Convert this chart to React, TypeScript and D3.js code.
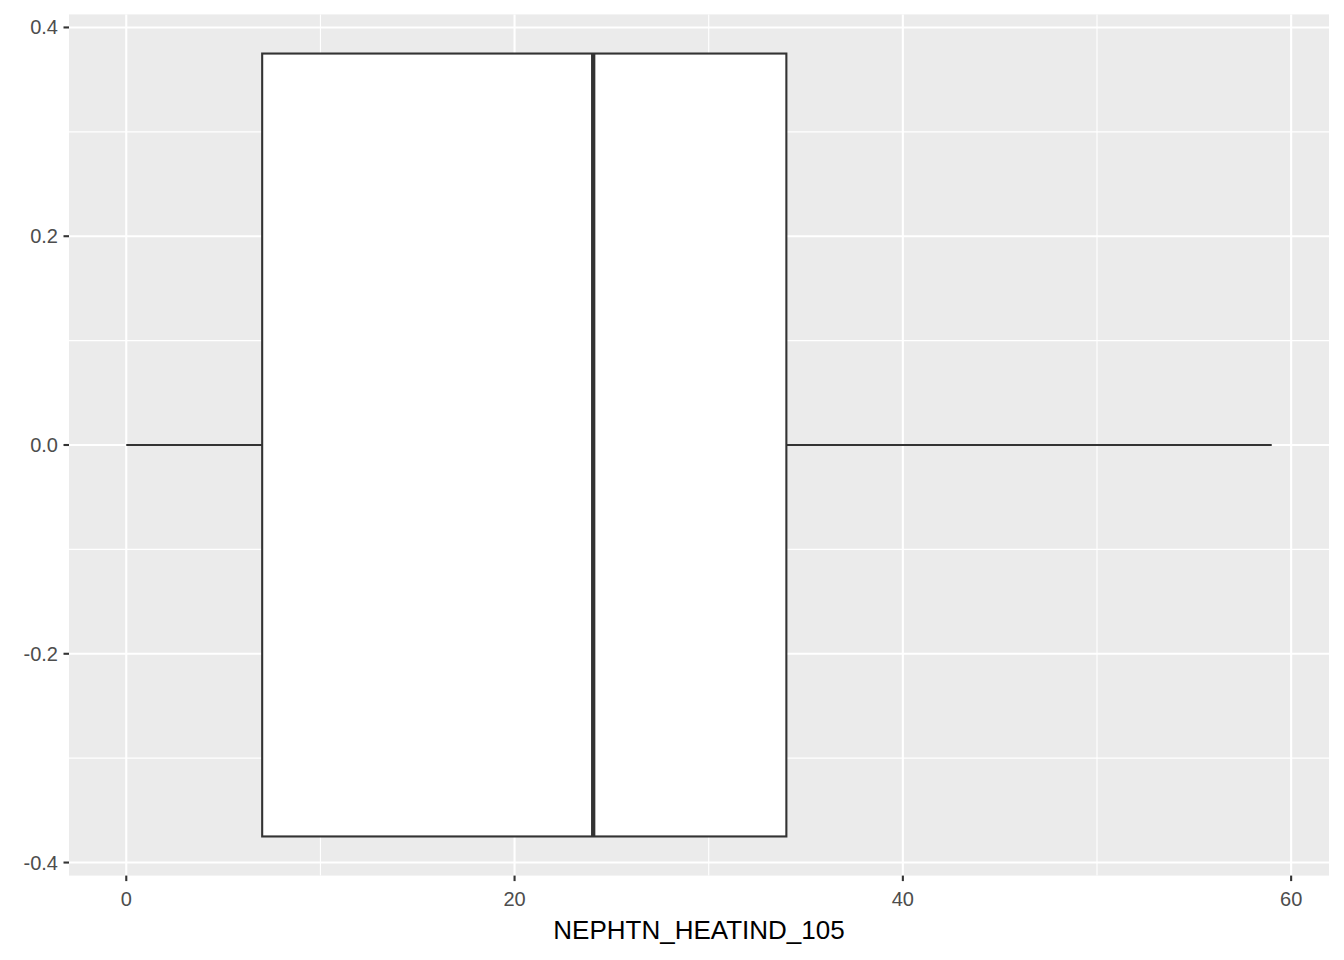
import React from "react";
import * as d3 from "d3";

const xTicks = [0, 20, 40, 60];
const xMinor = [10, 30, 50];
const yTicks = [-0.4, -0.2, 0.0, 0.2, 0.4];
const yMinor = [-0.3, -0.1, 0.1, 0.3];
const stats = { min: 0, q1: 7, median: 24.05, q3: 34, max: 59 };
const boxHalf = 0.375;
const xLabel = "NEPHTN_HEATIND_105";

export default function App() {
  const W = 1344, H = 960;
  const L = 69, R = 1329, T = 14.4, B = 875.6;
  const x = d3.scaleLinear().domain([-2.95, 61.95]).range([L, R]);
  const y = d3.scaleLinear().domain([-0.4125, 0.4125]).range([B, T]);
  const font = "Liberation Sans, Arial, sans-serif";
  return (
    <svg width={W} height={H} style={{ position: "absolute", left: 0, top: 0, background: "#fff" }}>
      <rect x={L} y={T} width={R - L} height={B - T} fill="#EBEBEB" />
      {xMinor.map(v => <line key={"xm" + v} x1={x(v)} x2={x(v)} y1={T} y2={B} stroke="#fff" strokeWidth={1.1} />)}
      {yMinor.map(v => <line key={"ym" + v} y1={y(v)} y2={y(v)} x1={L} x2={R} stroke="#fff" strokeWidth={1.1} />)}
      {xTicks.map(v => <line key={"x" + v} x1={x(v)} x2={x(v)} y1={T} y2={B} stroke="#fff" strokeWidth={2.1} />)}
      {yTicks.map(v => <line key={"y" + v} y1={y(v)} y2={y(v)} x1={L} x2={R} stroke="#fff" strokeWidth={2.1} />)}
      <line x1={x(stats.min)} x2={x(stats.q1)} y1={y(0)} y2={y(0)} stroke="#333" strokeWidth={2.1} />
      <line x1={x(stats.q3)} x2={x(stats.max)} y1={y(0)} y2={y(0)} stroke="#333" strokeWidth={2.1} />
      <rect x={x(stats.q1)} y={y(boxHalf)} width={x(stats.q3) - x(stats.q1)} height={y(-boxHalf) - y(boxHalf)} fill="#fff" stroke="#333" strokeWidth={2.1} />
      <line x1={x(stats.median)} x2={x(stats.median)} y1={y(boxHalf)} y2={y(-boxHalf)} stroke="#333" strokeWidth={4.3} />
      {xTicks.map(v => (
        <g key={"xt" + v}>
          <line x1={x(v)} x2={x(v)} y1={B} y2={B + 5.5} stroke="#333" strokeWidth={2.1} />
          <text x={x(v)} y={B + 30} textAnchor="middle" fontFamily={font} fontSize={20} fill="#4D4D4D">{v}</text>
        </g>
      ))}
      {yTicks.map(v => (
        <g key={"yt" + v}>
          <line x1={L - 5.5} x2={L} y1={y(v)} y2={y(v)} stroke="#333" strokeWidth={2.1} />
          <text x={L - 11} y={y(v) + 7} textAnchor="end" fontFamily={font} fontSize={20} fill="#4D4D4D">{v.toFixed(1)}</text>
        </g>
      ))}
      <text x={(L + R) / 2} y={939} textAnchor="middle" fontFamily={font} fontSize={26} fill="#000">{xLabel}</text>
    </svg>
  );
}
